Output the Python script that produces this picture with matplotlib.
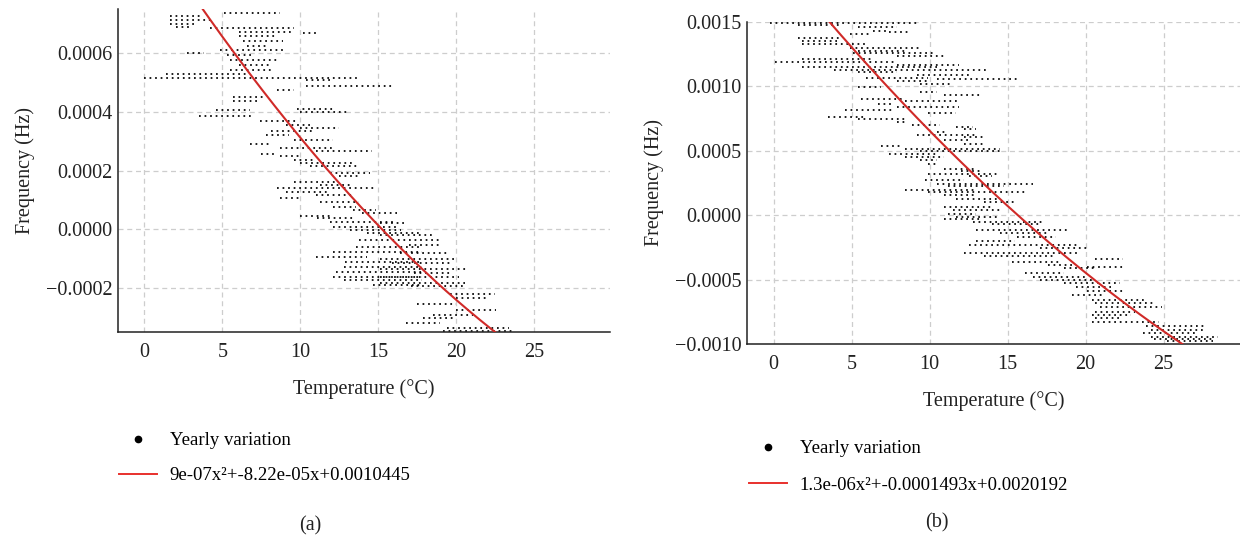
import numpy as np
import matplotlib
matplotlib.use("Agg")
import matplotlib.pyplot as plt
from matplotlib.lines import Line2D

plt.rcParams['font.family'] = ['Liberation Serif', 'DejaVu Serif']
plt.rcParams['axes.unicode_minus'] = True

# ---------------- data: panel (a) ----------------
# observed streaks of points: frequency (Hz), temperature start, temperature end (°C)
a_freq = np.array([7.36, 7.27, 7.14, 7.00, 6.90, 6.84, 6.73, 6.68, 6.57, 6.40, 6.23, 6.11, 6.00,
                   5.94, 5.77, 5.60, 5.43, 5.30, 5.15, 5.09, 4.89, 4.75, 4.52, 4.35, 4.10,
                   4.07, 3.98, 3.84, 3.70, 3.56, 3.44, 3.33, 3.20, 3.05, 2.90, 2.76, 2.65,
                   2.57, 2.48, 2.36, 2.25, 2.14, 1.90, 1.80, 1.62, 1.50, 1.40, 1.28, 1.17,
                   1.06, 0.94, 0.77, 0.66, 0.55, 0.45, 0.375, 0.23, 0.20, 0.09, -0.02, -0.14,
                   -0.19, -0.36, -0.53, -0.59, -0.76, -0.82, -0.93, -1.02, -1.10, -1.16, -1.27,
                   -1.36, -1.44, -1.50, -1.61, -1.64, -1.73, -1.82, -1.90, -1.95, -2.20, -2.35,
                   -2.55, -2.75, -2.92, -3.03, -3.20, -3.35, -3.47]) * 1e-4
a_t0 = np.array([5.1, 1.65, 1.65, 1.65, 2.0, 4.2, 6.1, 10.2, 6.1, 6.3, 6.6, 4.85, 2.7,
                 5.3, 5.5, 6.1, 5.5, 1.4, 0.0, 10.4, 10.4, 8.5, 5.7, 5.7, 9.8,
                 4.6, 10.0, 3.5, 7.4, 9.1, 10.0, 8.1, 7.8, 9.6, 6.8, 8.7, 11.0,
                 7.5, 8.7, 9.6, 10.0, 10.6, 11.9, 12.5, 9.6, 11.3, 8.5, 9.1, 11.0,
                 8.7, 11.3, 12.1, 13.4, 14.0, 10.0, 11.1, 11.9, 15.1, 12.1, 13.2, 14.3,
                 15.1, 13.8, 17.0, 13.6, 12.1, 16.4, 11.0, 15.1, 12.9, 15.9, 12.8,
                 15.1, 12.3, 17.3, 12.1, 15.1, 12.8, 15.1, 14.7, 17.1, 19.6, 20.0,
                 17.5, 20.0, 18.5, 17.9, 16.8, 19.4, 19.2])
a_t1 = np.array([8.7, 3.6, 4.4, 3.4, 2.9, 9.6, 9.6, 11.0, 8.5, 8.9, 7.8, 9.1, 3.8,
                 7.0, 8.5, 8.0, 8.3, 6.6, 13.7, 12.1, 15.9, 9.6, 7.8, 7.2, 12.1,
                 6.8, 13.2, 7.0, 9.8, 10.8, 12.5, 10.8, 9.3, 12.1, 8.1, 12.1, 14.6,
                 8.5, 9.9, 10.8, 13.4, 13.8, 14.5, 13.8, 12.3, 13.2, 14.9, 11.9, 13.4,
                 10.0, 13.8, 13.6, 14.9, 16.2, 12.1, 13.4, 16.0, 16.7, 16.3, 16.5, 17.8,
                 18.5, 19.0, 18.9, 17.8, 17.8, 19.6, 14.3, 20.1, 17.8, 19.6, 17.8,
                 20.8, 17.8, 19.6, 17.8, 20.2, 17.8, 20.6, 17.8, 20.6, 22.5, 22.1,
                 20.0, 22.6, 21.1, 20.0, 19.0, 23.4, 23.8])
a_coef = [9e-07, -8.22e-05, 0.0010445]

# ---------------- data: panel (b) ----------------
b_freq = np.array([14.96, 14.8, 14.6, 14.3, 14.2, 14.06, 13.75, 13.5, 13.3, 13.0, 12.77, 12.56,
                   12.38, 12.13, 11.87, 11.69, 11.48, 11.27, 11.09, 10.9, 10.65, 10.58, 10.4,
                   10.19, 9.93, 9.55, 9.37, 9.03, 8.9, 8.6, 8.38, 8.13, 7.95, 7.66, 7.48,
                   7.2, 7.04, 6.84, 6.7, 6.45, 6.2, 6.06, 5.8, 5.55, 5.34, 5.16, 4.98, 4.77,
                   4.51, 4.26, 4.0, 3.6, 3.43, 3.22, 3.02, 2.71, 2.45, 2.24, 1.99, 1.8, 1.55,
                   1.29, 1.03, 0.64, 0.39, 0.13, -0.13, -0.26, -0.52, -0.7, -1.16, -1.42,
                   -1.68, -1.99, -2.32, -2.58, -2.97, -3.17, -3.43, -3.61, -3.87, -4.0,
                   -4.13, -4.5, -4.77, -5.03, -5.29, -5.55, -5.86, -6.19, -6.58, -6.84,
                   -7.15, -7.48, -7.74, -8.0, -8.26, -8.59, -8.9, -9.16, -9.42, -9.62,
                   -9.8]) * 1e-4
b_t0 = np.array([-0.2, 1.6, 5.4, 6.4, 7.4, 4.9, 1.6, 1.8, 1.8, 4.9, 5.4, 5.1,
                 7.9, 1.8, 0.1, 7.9, 1.8, 3.9, 5.4, 9.2, 5.9, 10.5, 7.9,
                 9.4, 5.4, 9.4, 10.9, 5.6, 8.4, 6.7, 7.9, 4.6, 9.9, 3.5, 5.4,
                 7.9, 8.9, 11.7, 12.2, 10.5, 9.2, 12.2, 10.9, 12.2, 6.9, 8.4, 9.4, 7.4,
                 8.4, 9.4, 9.9, 10.9, 12.0, 9.9, 12.5, 9.7, 10.5, 11.2, 8.4, 9.9, 10.9,
                 11.7, 13.5, 10.9, 11.5, 11.2, 11.7, 10.9, 12.8, 14.0, 13.0, 14.5,
                 15.6, 13.0, 12.5, 17.1, 12.2, 13.5, 20.6, 15.3, 17.6, 20.1,
                 18.6, 16.1, 16.6, 17.1, 18.6, 19.4, 20.1, 19.1, 20.4, 20.6,
                 20.9, 20.6, 20.4, 20.6, 20.4, 23.9, 24.2, 23.7, 24.2, 24.4,
                 25.2])
b_t1 = np.array([9.2, 4.4, 7.9, 7.4, 8.7, 6.1, 4.4, 4.1, 5.9, 9.4, 8.4, 10.2,
                 10.9, 6.4, 7.9, 11.9, 10.5, 13.8, 7.9, 12.5, 9.9, 15.8, 9.9,
                 11.5, 6.9, 10.5, 13.3, 8.4, 11.9, 7.7, 11.9, 7.7, 11.7, 5.9, 8.4,
                 8.4, 10.7, 12.8, 13.0, 11.2, 13.0, 13.5, 12.5, 13.5, 8.2, 14.5, 14.5, 10.5,
                 10.9, 10.5, 10.5, 13.0, 13.3, 14.5, 14.0, 12.2, 16.6, 14.8, 12.9, 16.3, 13.0,
                 14.5, 15.5, 14.0, 14.5, 13.0, 14.5, 13.3, 17.3, 17.1, 18.9, 17.6,
                 18.1, 15.5, 19.6, 20.1, 19.6, 18.1, 22.4, 18.3, 19.1, 22.4,
                 20.6, 18.6, 20.1, 20.6, 22.2, 21.6, 22.4, 21.1, 23.9, 24.4,
                 24.9, 23.2, 22.9, 22.2, 24.7, 27.7, 27.7, 27.2, 28.5, 28.2,
                 28.2])
b_coef = [1.3e-06, -0.0001493, 0.0020192]

xticks = [0, 5, 10, 15, 20, 25]
a_yticks = [-0.0002, 0.0, 0.0002, 0.0004, 0.0006]
b_yticks = [-0.0010, -0.0005, 0.0, 0.0005, 0.0010, 0.0015]
a_ylim = (-0.00035, 0.00075)
b_ylim = (-0.0010, 0.0015)
xlim = (-1.7, 29.9)

scatter_label = "Yearly variation"
a_fit_label = "9e-07x²+-8.22e-05x+0.0010445"
b_fit_label = "1.3e-06x²+-0.0001493x+0.0020192"

# ---------------- figure ----------------
fig = plt.figure(figsize=(12.4, 5.41), dpi=100)
ax1 = fig.add_axes([118/1240, 1-332/541, (610-118)/1240, (332-9)/541])
ax2 = fig.add_axes([747/1240, 1-344/541, (1240-747)/1240, (344-22)/541])

RED = '#d02a28'
GRID = '#cdcdcd'


def draw(ax, freq, t0, t1, coef, yticks, ylim, yfmt):
    ax.set_xlim(*xlim)
    ax.set_ylim(*ylim)
    ax.hlines(freq, t0, t1, colors='black', linestyles=(0, (1.0, 2.2)), linewidth=1.25, zorder=2)
    xx = np.linspace(min(t0.min(), 0), t1.max() + 3, 400)
    ax.plot(xx, np.polyval(coef, xx), color=RED, lw=1.5, zorder=3)
    ax.set_xticks(xticks)
    ax.set_yticks(yticks)
    ax.set_yticklabels([yfmt.format(v).replace('-', '\u2212') for v in yticks])
    ax.grid(True, color=GRID, linestyle=(0, (4, 3)), linewidth=0.9)
    ax.set_axisbelow(True)
    for s in ['top', 'right']:
        ax.spines[s].set_visible(False)
    for s in ['left', 'bottom']:
        ax.spines[s].set_linewidth(1.1)
        ax.spines[s].set_color('#222222')
    ax.tick_params(axis='both', length=0, labelsize=14.5, colors='#222222')
    ax.tick_params(axis='x', pad=8)
    ax.tick_params(axis='y', pad=4)
    ax.set_xlabel("Temperature (°C)", fontsize=14.5, labelpad=12, color='#222222')
    ax.set_ylabel("Frequency (Hz)", fontsize=14.5, labelpad=8, color='#222222')


draw(ax1, a_freq, a_t0, a_t1, a_coef, a_yticks, a_ylim, "{:.4f}")
draw(ax2, b_freq, b_t0, b_t1, b_coef, b_yticks, b_ylim, "{:.4f}")


def legend(fit_label, x, y, spacing):
    handles = [Line2D([], [], ls='none', marker='o', ms=4.5, color='black'),
               Line2D([], [], color='#e8302c', lw=1.4)]
    fig.legend(handles, [scatter_label, fit_label], loc='upper left',
               bbox_to_anchor=(x, y), bbox_transform=fig.transFigure,
               frameon=False, fontsize=13.5, handlelength=2.0, handletextpad=0.7,
               labelspacing=spacing, borderpad=0, borderaxespad=0)


legend(a_fit_label, 119/1240, 1-432/541, 0.95)
legend(b_fit_label, 749/1240, 1-440/541, 1.05)

fig.text(310/1240, 1-526/541, "(a)", ha='center', va='center', fontsize=14.5, color='#222222')
fig.text(937/1240, 1-523/541, "(b)", ha='center', va='center', fontsize=14.5, color='#222222')

fig.savefig("out.png", dpi=100)
